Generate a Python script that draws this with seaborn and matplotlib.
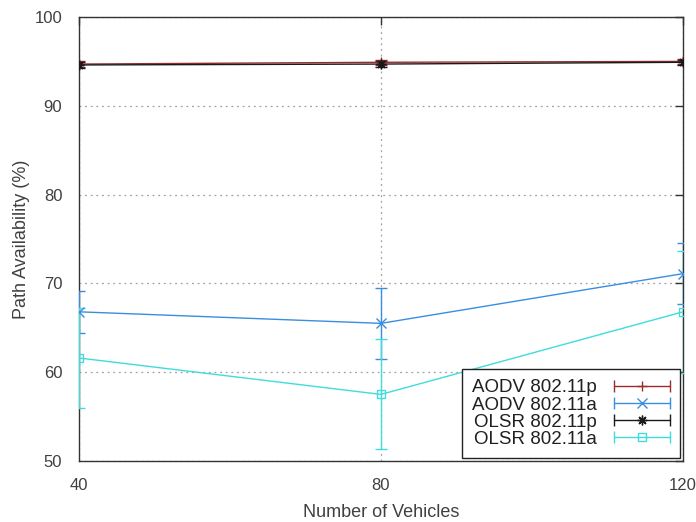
import matplotlib
matplotlib.use("Agg")
import matplotlib.pyplot as plt
from matplotlib.lines import Line2D
from matplotlib.legend_handler import HandlerLine2D
import seaborn as sns
import pandas as pd

# Path availability vs. network size
vehicles = [40, 80, 120]
aodv_p = [94.7, 94.9, 95.0]
aodv_p_err = [0.3, 0.3, 0.3]
aodv_a = [66.8, 65.5, 71.1]
aodv_a_err = [2.4, 4.0, 3.4]
olsr_p = [94.6, 94.7, 94.9]
olsr_p_err = [0.3, 0.3, 0.3]
olsr_a = [61.6, 57.5, 66.8]
olsr_a_err = [5.6, 6.2, 6.9]

series_names = ["AODV 802.11p", "AODV 802.11a", "OLSR 802.11p", "OLSR 802.11a"]
series_vals = [aodv_p, aodv_a, olsr_p, olsr_a]
series_errs = [aodv_p_err, aodv_a_err, olsr_p_err, olsr_a_err]
colors = ["#9b2b2b", "#3a8ee0", "#1a1a1a", "#3fdcdc"]
markers = ["+", "x", (8, 2, 0), "s"]

sns.set_theme(style="white")
plt.rcParams["font.family"] = ["Liberation Sans", "DejaVu Sans"]

fig = plt.figure(figsize=(6.96, 5.22), dpi=100)
ax = fig.add_axes([79 / 696, 1 - 461 / 522, (683 - 79) / 696, (461 - 17) / 522])

rows = []
for name, vals in zip(series_names, series_vals):
    for x, v in zip(vehicles, vals):
        rows.append({"vehicles": x, "avail": v, "series": name})
df = pd.DataFrame(rows)

for name, vals, errs, c, m in zip(series_names, series_vals, series_errs, colors, markers):
    ax.errorbar(vehicles, vals, yerr=errs, fmt="none", ecolor=c, elinewidth=1.0,
                capsize=4, capthick=1.0, zorder=3)
    sub = df[df["series"] == name]
    sns.lineplot(data=sub, x="vehicles", y="avail", ax=ax, color=c, marker=m,
                 markersize=7 if m != "s" else 6, linewidth=1.0,
                 markerfacecolor="none" if m == "s" else c,
                 markeredgecolor=c, markeredgewidth=1.0, zorder=4, legend=False)

ax.set_xlim(40, 120)
ax.set_ylim(50, 100)
ax.set_xticks(vehicles)
ax.set_yticks([50, 60, 70, 80, 90, 100])
ax.grid(True, linestyle=(0, (1.5, 3)), color="#a0a0a0", linewidth=0.9)
for sp in ax.spines.values():
    sp.set_color("#333333")
    sp.set_linewidth(1.0)
ax.tick_params(direction="in", length=6, width=1.0, color="#333333",
               top=True, right=True, labelsize=12, labelcolor="#404040")
ax.tick_params(axis="x", pad=12)
ax.tick_params(axis="y", pad=12)
ax.set_xlabel("Number of Vehicles", fontsize=13, color="#404040", labelpad=8)
ax.set_ylabel("Path Availability (%)", fontsize=13, color="#404040", labelpad=3)


class CappedLineHandler(HandlerLine2D):
    """Legend key drawn as a horizontal error bar with end caps and a center marker."""

    def create_artists(self, legend, orig_handle, xdescent, ydescent, width, height, fontsize, trans):
        y = height / 2 - ydescent
        x0, x1 = -xdescent, width - xdescent
        c = orig_handle.get_color()
        line = Line2D([x0, x1], [y, y], color=c, linewidth=1.0, transform=trans)
        caps = Line2D([x0, x1], [y, y], linestyle="none", marker="|", markersize=8,
                      markeredgewidth=1.0, color=c, transform=trans)
        mk = Line2D([(x0 + x1) / 2], [y], linestyle="none",
                    marker=orig_handle.get_marker(), markersize=orig_handle.get_markersize(),
                    markerfacecolor=orig_handle.get_markerfacecolor(),
                    markeredgecolor=c, markeredgewidth=1.0, transform=trans)
        return [line, caps, mk]


handles = []
for name, c, m in zip(series_names, colors, markers):
    handles.append(Line2D([], [], color=c, marker=m, markersize=7 if m != "s" else 6,
                          markerfacecolor="none" if m == "s" else c, label=name))
leg = ax.legend(handles=handles, loc="lower right", markerfirst=False, fontsize=13.5,
                handler_map={Line2D: CappedLineHandler()}, handlelength=3.0,
                frameon=True, fancybox=False, framealpha=1, edgecolor="#222222",
                borderpad=0.55, labelspacing=0.0, handletextpad=0.9,
                borderaxespad=0.15)
leg.get_frame().set_linewidth(1.0)
for t in leg.get_texts():
    t.set_color("#202020")

fig.savefig("out.png", dpi=100)
